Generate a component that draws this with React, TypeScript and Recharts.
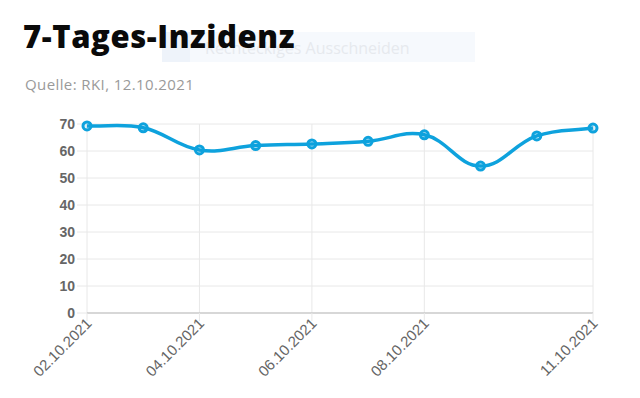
import React from 'react';
import { LineChart, Line, XAxis, YAxis, CartesianGrid } from 'recharts';

const dates = ['02.10.2021', '03.10.2021', '04.10.2021', '05.10.2021', '06.10.2021', '07.10.2021', '08.10.2021', '09.10.2021', '10.10.2021', '11.10.2021'];
const incidence = [69.3, 68.6, 60.4, 62.0, 62.6, 63.6, 66.0, 54.4, 65.6, 68.5];
const xTicks = ['02.10.2021', '04.10.2021', '06.10.2021', '08.10.2021', '11.10.2021'];
const yTicks = [0, 10, 20, 30, 40, 50, 60, 70];

const data = dates.map((d, i) => ({ date: d, value: incidence[i] }));

// spline like Chart.js (tension 0.4)
const splineCurve = (context: any) => {
  let pts: number[][] = [];
  return {
    areaStart() {},
    areaEnd() {},
    lineStart() { pts = []; },
    point(x: number, y: number) { pts.push([+x, +y]); },
    lineEnd() {
      const n = pts.length;
      if (!n) return;
      const t = 0.4;
      const cps = pts.map((p, i) => {
        const prev = pts[i - 1] || p;
        const next = pts[i + 1] || p;
        const d01 = Math.hypot(p[0] - prev[0], p[1] - prev[1]);
        const d12 = Math.hypot(next[0] - p[0], next[1] - p[1]);
        let s01 = d01 / (d01 + d12);
        let s12 = d12 / (d01 + d12);
        if (isNaN(s01)) s01 = 0;
        if (isNaN(s12)) s12 = 0;
        const fa = t * s01, fb = t * s12;
        return {
          prev: [p[0] - fa * (next[0] - prev[0]), p[1] - fa * (next[1] - prev[1])],
          next: [p[0] + fb * (next[0] - prev[0]), p[1] + fb * (next[1] - prev[1])],
        };
      });
      context.moveTo(pts[0][0], pts[0][1]);
      for (let i = 1; i < n; i++) {
        context.bezierCurveTo(cps[i - 1].next[0], cps[i - 1].next[1], cps[i].prev[0], cps[i].prev[1], pts[i][0], pts[i][1]);
      }
    },
  };
};

const XTick = ({ x, y, payload }: any) => (
  <g transform={`translate(${x},${y})`}>
    <text x={3} y={0} dy={5} textAnchor="end" transform="rotate(-45)" fill="#666" fontSize={15} fontFamily="Liberation Sans, Arial, sans-serif">
      {payload.value}
    </text>
  </g>
);

export default function App() {
  return (
    <div style={{ position: 'absolute', left: 0, top: 0, width: 640, height: 398, background: '#fff', fontFamily: 'Liberation Sans, Arial, sans-serif' }}>
      {/* snipping tool hint left in the screenshot */}
      <div style={{ position: 'absolute', left: 162, top: 32, width: 313, height: 30, background: '#f6f9fd' }}>
        <div style={{ position: 'absolute', left: 0, top: 0, width: 28, height: 30, background: '#eef3fa' }} />
        <span style={{ position: 'absolute', left: 43, top: 5, fontSize: 16, color: '#e6e9ee', fontFamily: 'Open Sans, sans-serif' }}>Rechteckiges Ausschneiden</span>
      </div>
      <div style={{ position: 'absolute', left: 23, top: 15, fontSize: 31, fontWeight: 800, color: '#0a0a0a', fontFamily: 'Open Sans, sans-serif', letterSpacing: 0.6 }}>
        7-Tages-Inzidenz
      </div>
      <div style={{ position: 'absolute', left: 25, top: 74, fontSize: 15, color: '#9a9a9a', fontFamily: 'Open Sans, sans-serif', letterSpacing: 0.4 }}>
        Quelle: RKI, 12.10.2021
      </div>
      <div style={{ position: 'absolute', left: 0, top: 0 }}>
        <LineChart width={640} height={398} data={data} margin={{ top: 124, right: 47, left: 25, bottom: 10 }}>
          <CartesianGrid stroke="#e8e8e8" />
          <XAxis
            dataKey="date"
            ticks={xTicks}
            interval={0}
            height={75}
            tickSize={8}
            tickMargin={2}
            stroke="#bbb"
            tickLine={{ stroke: '#e8e8e8' }}
            tick={<XTick />}
          />
          <YAxis
            domain={[0, 70]}
            ticks={yTicks}
            width={62}
            axisLine={false}
            tickSize={10}
            tickMargin={2}
            tickLine={{ stroke: '#e8e8e8' }}
            tick={{ fill: '#666', fontSize: 14, fontWeight: 700, fontFamily: 'Liberation Sans, Arial, sans-serif' }}
          />
          <Line
            dataKey="value"
            type={splineCurve as any}
            stroke="#0ea2dd"
            strokeWidth={3.5}
            dot={{ r: 4, stroke: '#0ea2dd', strokeWidth: 3, fill: 'rgba(14,162,221,0.15)' }}
            isAnimationActive={false}
          />
        </LineChart>
      </div>
    </div>
  );
}
